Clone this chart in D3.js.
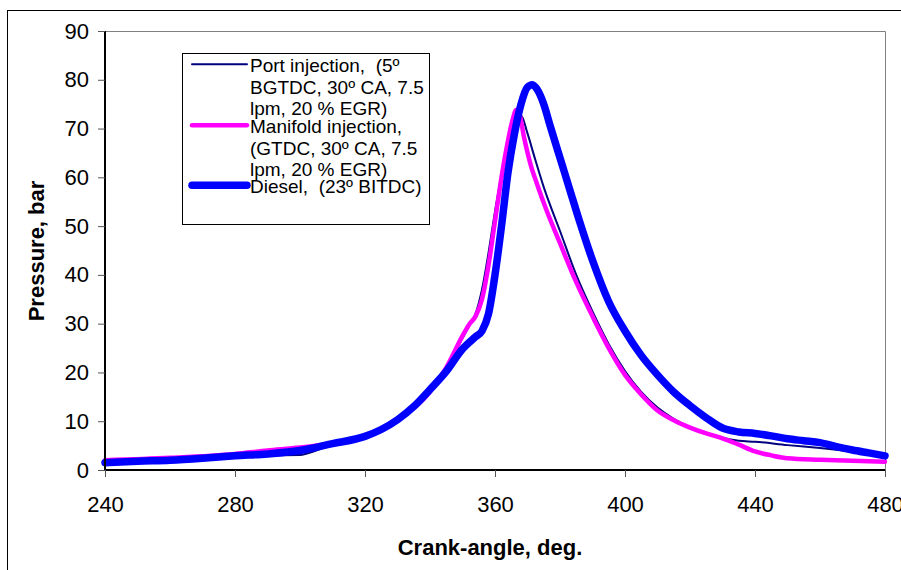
<!DOCTYPE html>
<html>
<head>
<meta charset="utf-8">
<script src="https://cdn.jsdelivr.net/npm/d3@7"></script>
<style>
  body { margin: 0; background: #fff; }
  svg { display: block; font-family: Arial, "Liberation Sans", sans-serif; }
  text { white-space: pre; }
</style>
</head>
<body>
<div id="chart"></div>
<script>
// crank angle (deg) and cylinder pressure (bar)
var portCA = [240, 260, 280, 290, 300, 305, 310, 320, 330, 340, 345, 350, 352, 354, 356, 358, 360, 362, 364, 366, 368, 370, 372, 375, 380, 385, 390, 395, 400, 405, 410, 415, 420, 425, 430, 435, 440, 450, 460, 470, 480];
var portP = [1.7, 2.3, 3.0, 3.0, 3.1, 4.0, 5.3, 7.0, 10.3, 16.3, 20.8, 27, 29.5, 32, 37, 44.5, 53, 60.5, 66.5, 71, 72.7, 69, 64.5, 58, 49, 40, 32.5, 25.8, 20.3, 16, 12.8, 10.5, 8.8, 7.6, 6.6, 6.0, 5.8, 5.1, 4.5, 3.8, 3.0];

var manifoldCA = [240, 260, 280, 290, 300, 310, 320, 330, 340, 345, 350, 352, 354, 356, 358, 360, 362, 364, 365.5, 366.5, 367.5, 369, 371, 373, 376, 380, 385, 390, 395, 400, 405, 410, 415, 420, 425, 430, 435, 440, 445, 450, 460, 470, 480];
var manifoldP = [2.0, 2.5, 3.3, 4.0, 4.6, 5.5, 7.0, 10.5, 16, 21, 27.5, 29.8, 31.5, 35, 42, 51, 60, 67.5, 72, 73.8, 73, 68, 62.5, 58.5, 53, 46.5, 38.5, 31.5, 25, 19.5, 15.5, 12.2, 10.2, 8.7, 7.5, 6.5, 5.2, 3.8, 3.0, 2.4, 2.1, 1.9, 1.7];

var dieselCA = [240, 250, 260, 270, 280, 290, 300, 310, 320, 325, 330, 335, 340, 345, 350, 354, 356, 358, 360, 362, 364, 366, 368, 370, 371.5, 373, 375, 377, 380, 383, 386, 390, 395, 400, 405, 410, 415, 420, 425, 430, 435, 440, 445, 450, 455, 460, 465, 470, 475, 480];
var dieselP = [1.5, 1.8, 2.0, 2.4, 2.9, 3.3, 4.0, 5.4, 6.9, 8.3, 10.3, 13, 16.5, 20.2, 24.8, 27.3, 28.5, 32, 40, 50, 61, 69, 75, 78.5, 79, 78, 75, 70.5, 64, 57.5, 51, 43, 34.5, 28.5, 23.5, 19.5, 16, 13.2, 10.7, 8.6, 7.8, 7.5, 7, 6.4, 6, 5.6, 4.8, 4.1, 3.5, 2.9];

var xTicks = [240, 280, 320, 360, 400, 440, 480];
var yTicks = [0, 10, 20, 30, 40, 50, 60, 70, 80, 90];

var seriesNames = ["port", "manifold", "diesel"];
var seriesColors = ["#000080", "#ff00ff", "#0000ff"];
var seriesWidths = [2, 4.5, 7.5];
var legendLines = [
    ["Port injection,  (5\u00ba", "BGTDC, 30\u00ba CA, 7.5", "lpm, 20 % EGR)"],
    ["Manifold injection,", "(GTDC, 30\u00ba CA, 7.5", "lpm, 20 % EGR)"],
    ["Diesel,  (23\u00ba BITDC)"]
];

var W = 901, H = 570;
var margin = {top: 31, right: 16, bottom: 100, left: 105};
var width = W - margin.left - margin.right;
var height = H - margin.top - margin.bottom;

var svg = d3.select("#chart").append("svg")
    .attr("width", W)
    .attr("height", H);

// outer chart frame
svg.append("rect")
    .attr("x", 7.5).attr("y", 10.5)
    .attr("width", 1000).attr("height", 1000)
    .attr("fill", "none")
    .attr("stroke", "#000")
    .attr("stroke-width", 1);

var g = svg.append("g")
    .attr("transform", "translate(" + margin.left + "," + margin.top + ")");

var x = d3.scaleLinear().domain([240, 480]).range([0, width]);
var y = d3.scaleLinear().domain([0, 90]).range([height, 0]);

// plot area border (top and right, grey)
g.append("path")
    .attr("d", "M0,0.5H" + (width + 0.5) + "V" + height)
    .attr("fill", "none")
    .attr("stroke", "#808080")
    .attr("stroke-width", 1);

var series = [
    {ca: portCA, p: portP},
    {ca: manifoldCA, p: manifoldP},
    {ca: dieselCA, p: dieselP}
];

var line = d3.line()
    .x(function(d) { return x(d[0]); })
    .y(function(d) { return y(d[1]); })
    .curve(d3.curveMonotoneX);

series.forEach(function(s, i) {
    var pts = s.ca.map(function(c, j) { return [c, s.p[j]]; });
    g.append("path")
        .datum(pts)
        .attr("class", "line-" + seriesNames[i])
        .attr("fill", "none")
        .attr("stroke", seriesColors[i])
        .attr("stroke-width", seriesWidths[i])
        .attr("stroke-linejoin", "round")
        .attr("stroke-linecap", "round")
        .attr("d", line);
});

// axes
var xAxis = g.append("g")
    .attr("transform", "translate(0," + height + ")")
    .call(d3.axisBottom(x).tickValues(xTicks).tickSize(7).tickPadding(19).tickFormat(d3.format("d")));
xAxis.select(".domain").attr("stroke", "#000").attr("stroke-width", 2).attr("d", "M0,0H" + width);
xAxis.selectAll(".tick line").attr("stroke", "#555");
xAxis.selectAll("text").attr("font-size", 22).attr("fill", "#000")
    .attr("font-family", "Arial, 'Liberation Sans', sans-serif");

var yAxis = g.append("g")
    .call(d3.axisLeft(y).tickValues(yTicks).tickSize(7).tickPadding(9));
yAxis.select(".domain").attr("stroke", "#000").attr("stroke-width", 2).attr("d", "M0," + height + "V0");
yAxis.selectAll(".tick line").attr("stroke", "#555");
yAxis.selectAll("text").attr("font-size", 22).attr("fill", "#000")
    .attr("font-family", "Arial, 'Liberation Sans', sans-serif");

// axis titles
svg.append("text")
    .attr("x", margin.left + width / 2 - 5)
    .attr("y", 555)
    .attr("text-anchor", "middle")
    .attr("font-weight", "bold")
    .attr("font-size", 22)
    .text("Crank-angle, deg.");

svg.append("text")
    .attr("transform", "translate(44,251) rotate(-90)")
    .attr("text-anchor", "middle")
    .attr("font-weight", "bold")
    .attr("font-size", 22)
    .text("Pressure, bar");

// legend
var legend = svg.append("g").attr("transform", "translate(182,53)");
legend.append("rect")
    .attr("x", 0.5).attr("y", 0.5)
    .attr("width", 247).attr("height", 171)
    .attr("fill", "#fff")
    .attr("stroke", "#000")
    .attr("stroke-width", 1);

var entryTop = [19.3, 80.3, 140.3];
legendLines.forEach(function(lines, i) {
    legend.append("line")
        .attr("x1", 10).attr("x2", 65)
        .attr("y1", entryTop[i] - 8).attr("y2", entryTop[i] - 8)
        .attr("stroke", seriesColors[i])
        .attr("stroke-width", seriesWidths[i])
        .attr("stroke-linecap", "round");
    lines.forEach(function(t, k) {
        legend.append("text")
            .attr("x", 68)
            .attr("y", entryTop[i] + k * 21.3)
            .attr("font-size", 19)
            .attr("fill", "#000")
            .text(t);
    });
});
</script>
</body>
</html>
